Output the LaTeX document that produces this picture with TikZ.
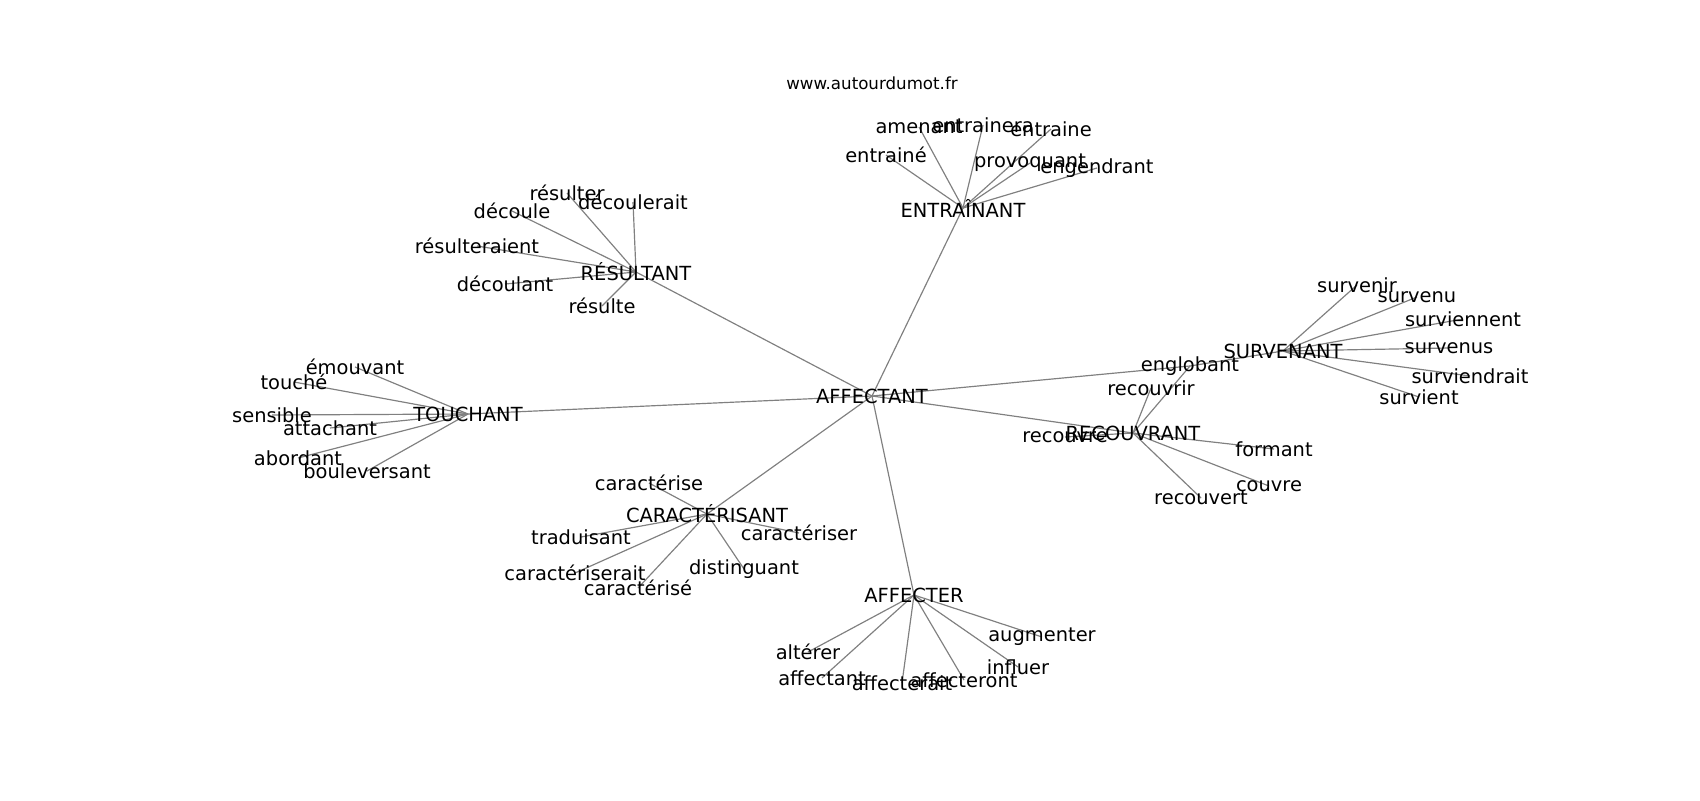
\documentclass[tikz,border=0pt]{standalone}
\usepackage{fontspec}
\setmainfont{DejaVu Sans}
\usepackage{tikz}
\usetikzlibrary{backgrounds}

\begin{document}
\begin{tikzpicture}[x=0.72pt,y=-0.72pt,
    word/.style={inner sep=0pt,font=\fontsize{14}{16}\selectfont},
    link/.style={draw=gray,line width=0.85pt}]
    \useasboundingbox (0,0) rectangle (1700,800);
    \node[inner sep=0pt,font=\fontsize{12}{14}\selectfont] (title) at (872,83) {www.autourdumot.fr};
    % hubs
    \node[word] (AFFECTANT) at (872,396) {AFFECTANT};
    \node[word] (ENTRAINANT) at (963,208) {ENTRAÎNANT};
    \node[word] (RESULTANT) at (636,272) {RÉSULTANT};
    \node[word] (TOUCHANT) at (468,414) {TOUCHANT};
    \node[word] (CARACTERISANT) at (707,514) {CARACTÉRISANT};
    \node[word] (AFFECTER) at (914,595) {AFFECTER};
    \node[word] (RECOUVRANT) at (1133,433) {RECOUVRANT};
    \node[word] (SURVENANT) at (1283,351) {SURVENANT};
    \node[word] (englobant) at (1190,366) {englobant};
    % leaves
    \node[word] (amenant) at (919,127) {amenant};
    \node[word] (entrainera) at (983,125) {entrainera};
    \node[word] (entraine) at (1051,129) {entraine};
    \node[word] (entrainee) at (886,155) {entrainé};
    \node[word] (provoquant) at (1030,163) {provoquant};
    \node[word] (engendrant) at (1097,168) {engendrant};
    \node[word] (resulter) at (567,193) {résulter};
    \node[word] (decoulerait) at (633,202) {découlerait};
    \node[word] (decoule) at (512,211) {découle};
    \node[word] (resulteraient) at (477,246) {résulteraient};
    \node[word] (decoulant) at (505,284) {découlant};
    \node[word] (resulte) at (602,306) {résulte};
    \node[word] (emouvant) at (355,367) {émouvant};
    \node[word] (touche) at (294,382) {touché};
    \node[word] (sensible) at (272,415) {sensible};
    \node[word] (attachant) at (330,428) {attachant};
    \node[word] (abordant) at (298,458) {abordant};
    \node[word] (bouleversant) at (367,471) {bouleversant};
    \node[word] (caracterise) at (649,483) {caractérise};
    \node[word] (traduisant) at (581,537) {traduisant};
    \node[word] (caracteriser) at (799,533) {caractériser};
    \node[word] (caracteriserait) at (575,573) {caractériserait};
    \node[word] (caracterisee) at (638,588) {caractérisé};
    \node[word] (distinguant) at (744,569) {distinguant};
    \node[word] (augmenter) at (1042,637) {augmenter};
    \node[word] (alterer) at (808,652) {altérer};
    \node[word] (affectant) at (822,678) {affectant};
    \node[word] (affecterait) at (902,683) {affecterait};
    \node[word] (affecteront) at (964,680) {affecteront};
    \node[word] (influer) at (1018,667) {influer};
    \node[word] (recouvrir) at (1151,388) {recouvrir};
    \node[word] (recouvre) at (1065,437) {recouvre};
    \node[word] (formant) at (1274,449) {formant};
    \node[word] (couvre) at (1269,486) {couvre};
    \node[word] (recouvert) at (1201,498) {recouvert};
    \node[word] (survenir) at (1357,285) {survenir};
    \node[word] (survenu) at (1417,297) {survenu};
    \node[word] (surviennent) at (1463,319) {surviennent};
    \node[word] (survenus) at (1449,348) {survenus};
    \node[word] (surviendrait) at (1470,376) {surviendrait};
    \node[word] (survient) at (1419,397) {survient};
    % edges
    \begin{scope}[on background layer]
    \draw[link] (AFFECTANT.center) -- (ENTRAINANT.center);
    \draw[link] (AFFECTANT.center) -- (RESULTANT.center);
    \draw[link] (AFFECTANT.center) -- (TOUCHANT.center);
    \draw[link] (AFFECTANT.center) -- (CARACTERISANT.center);
    \draw[link] (AFFECTANT.center) -- (AFFECTER.center);
    \draw[link] (AFFECTANT.center) -- (RECOUVRANT.center);
    \draw[link] (AFFECTANT.center) -- (englobant.center);
    \draw[link] (englobant.center) -- (SURVENANT.center);
    \draw[link] (englobant.center) -- (RECOUVRANT.center);
    \draw[link] (ENTRAINANT.center) -- (amenant.center);
    \draw[link] (ENTRAINANT.center) -- (entrainera.center);
    \draw[link] (ENTRAINANT.center) -- (entraine.center);
    \draw[link] (ENTRAINANT.center) -- (entrainee.center);
    \draw[link] (ENTRAINANT.center) -- (provoquant.center);
    \draw[link] (ENTRAINANT.center) -- (engendrant.center);
    \draw[link] (RESULTANT.center) -- (resulter.center);
    \draw[link] (RESULTANT.center) -- (decoulerait.center);
    \draw[link] (RESULTANT.center) -- (decoule.center);
    \draw[link] (RESULTANT.center) -- (resulteraient.center);
    \draw[link] (RESULTANT.center) -- (decoulant.center);
    \draw[link] (RESULTANT.center) -- (resulte.center);
    \draw[link] (TOUCHANT.center) -- (emouvant.center);
    \draw[link] (TOUCHANT.center) -- (touche.center);
    \draw[link] (TOUCHANT.center) -- (sensible.center);
    \draw[link] (TOUCHANT.center) -- (attachant.center);
    \draw[link] (TOUCHANT.center) -- (abordant.center);
    \draw[link] (TOUCHANT.center) -- (bouleversant.center);
    \draw[link] (CARACTERISANT.center) -- (caracterise.center);
    \draw[link] (CARACTERISANT.center) -- (traduisant.center);
    \draw[link] (CARACTERISANT.center) -- (caracteriser.center);
    \draw[link] (CARACTERISANT.center) -- (caracteriserait.center);
    \draw[link] (CARACTERISANT.center) -- (caracterisee.center);
    \draw[link] (CARACTERISANT.center) -- (distinguant.center);
    \draw[link] (AFFECTER.center) -- (augmenter.center);
    \draw[link] (AFFECTER.center) -- (alterer.center);
    \draw[link] (AFFECTER.center) -- (affectant.center);
    \draw[link] (AFFECTER.center) -- (affecterait.center);
    \draw[link] (AFFECTER.center) -- (affecteront.center);
    \draw[link] (AFFECTER.center) -- (influer.center);
    \draw[link] (RECOUVRANT.center) -- (recouvrir.center);
    \draw[link] (RECOUVRANT.center) -- (recouvre.center);
    \draw[link] (RECOUVRANT.center) -- (formant.center);
    \draw[link] (RECOUVRANT.center) -- (couvre.center);
    \draw[link] (RECOUVRANT.center) -- (recouvert.center);
    \draw[link] (SURVENANT.center) -- (survenir.center);
    \draw[link] (SURVENANT.center) -- (survenu.center);
    \draw[link] (SURVENANT.center) -- (surviennent.center);
    \draw[link] (SURVENANT.center) -- (survenus.center);
    \draw[link] (SURVENANT.center) -- (surviendrait.center);
    \draw[link] (SURVENANT.center) -- (survient.center);
    \end{scope}
\end{tikzpicture}
\end{document}
